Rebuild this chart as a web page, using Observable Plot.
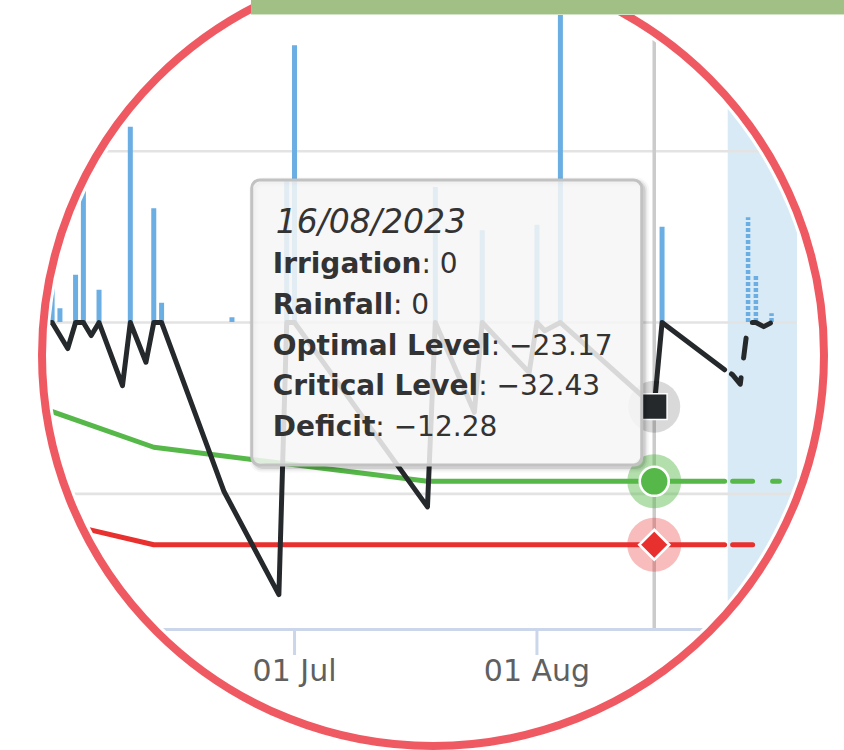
<!DOCTYPE html>
<html><head><meta charset="utf-8">
<script src="https://cdn.jsdelivr.net/npm/d3@7"></script>
<script src="https://cdn.jsdelivr.net/npm/@observablehq/plot@0.6"></script>
<style>
html,body{margin:0;padding:0;background:#fff;}
#stage{position:relative;width:844px;height:750px;overflow:hidden;background:#fff;}
#clip{position:absolute;left:0;top:0;width:844px;height:750px;clip-path:circle(384px at 433px 355px);}
#ring{position:absolute;left:38px;top:-40px;width:790px;height:790px;box-sizing:border-box;border:8px solid #ef5a62;border-radius:50%;}
#topbar{position:absolute;left:251px;top:0;width:593px;height:14px;background:#a1c085;border-bottom:1px solid #d3e3c6;}
</style></head>
<body>
<div id="stage"><div id="clip"></div><div id="ring"></div><div id="topbar"></div></div>
<script>
// ---------- data ----------
const deficitDates = ["2023-05-30","2023-05-31","2023-06-02","2023-06-03","2023-06-04","2023-06-05","2023-06-06","2023-06-09","2023-06-10","2023-06-12","2023-06-13","2023-06-14","2023-06-22","2023-06-29","2023-06-30","2023-07-01","2023-07-18","2023-07-19","2023-07-24","2023-07-25","2023-07-31","2023-08-01","2023-08-02","2023-08-04","2023-08-16","2023-08-17","2023-08-25"];
const deficitValues = [0,0,-3.8,0,0,-1.9,0,-9.2,0,-5.8,0,0,-24.7,-39.7,0,0,-26.9,0,-13.1,0,-7.3,0,-1.2,0,-12.28,0,-6.9];

const forecastDates = ["2023-08-25","2023-08-26","2023-08-27","2023-08-28","2023-08-29","2023-08-30","2023-08-31","2023-09-01"];
const deficitForecast = [-6.9,-7.6,-9.0,0,0,-0.6,0,0];

const optimalDates = ["2023-05-30","2023-06-13","2023-07-18","2023-08-16","2023-08-25"];
const optimalValues = [-12.6,-18.2,-23.17,-23.17,-23.17];
const criticalDates = ["2023-05-30","2023-06-13","2023-08-16","2023-08-25"];
const criticalValues = [-28.7,-32.43,-32.43,-32.43];

const levelForecastDates = ["2023-08-25","2023-09-01"];
const optimalForecast = [-23.17,-23.17];
const criticalForecast = [-32.43,-32.43];

const irrigationDates = ["2023-06-04","2023-06-10","2023-07-01","2023-07-19","2023-07-25","2023-08-01","2023-08-17"];
const irrigationValues = [19.6,28.5,40.4,19.7,13.4,14.2,13.9];
const rainfallDates = ["2023-05-31","2023-06-01","2023-06-03","2023-06-06","2023-06-13","2023-06-14","2023-06-23","2023-06-30","2023-08-04"];
const rainfallValues = [5.4,2.0,6.9,4.7,16.6,2.8,0.7,20.7,55];
const rainForecastDates = ["2023-08-28","2023-08-29","2023-08-31"];
const rainForecastValues = [15.3,6.9,1.3];

const axisTickDates = ["2023-06-01","2023-07-01","2023-08-01","2023-09-01"];
const gridValues = [-25, 0, 25];
const hoverDay = "2023-08-16";
const forecastBandStart = "2023-08-25T11:00Z";

// ---------- layout ----------
const xDomain = [new Date("2023-05-24T09:36Z"), new Date("2023-09-03T07:41Z")];
const yDomain = [-44.8, 47.0];

const parse = d3.utcParse("%Y-%m-%d");
const rows = (dates, vals) => dates.map((d, i) => ({date: parse(d), value: vals[i]}));

const deficit = rows(deficitDates, deficitValues);
const deficitF = rows(forecastDates, deficitForecast);
const optimal = rows(optimalDates, optimalValues);
const critical = rows(criticalDates, criticalValues);
const optimalF = rows(levelForecastDates, optimalForecast);
const criticalF = rows(levelForecastDates, criticalForecast);
const irrigation = rows(irrigationDates, irrigationValues);
const rainfall = rows(rainfallDates, rainfallValues);
const rainF = rows(rainForecastDates, rainForecastValues);
const hd = parse(hoverDay);

const pick = (dates, vals) => { const i = dates.indexOf(hoverDay); return i < 0 ? 0 : vals[i]; };
const hIrr = pick(irrigationDates, irrigationValues);
const hRain = pick(rainfallDates, rainfallValues);
const hOpt = pick(optimalDates, optimalValues);
const hCrit = pick(criticalDates, criticalValues);
const hDef = pick(deficitDates, deficitValues);

const BLACK = "#25292c", GREEN = "#56b848", RED = "#e8302f", BLUE = "#6aaee3";
const dash = {strokeDasharray: "20,20", strokeDashoffset: 32};

const chart = Plot.plot({
  width: 844, height: 750,
  marginLeft: 0, marginRight: 47, marginTop: 0, marginBottom: 121,
  style: {fontFamily: "DejaVu Sans", background: "#fff", overflow: "visible"},
  x: {type: "utc", domain: xDomain, axis: null},
  y: {domain: yDomain, axis: null},
  marks: [
    Plot.rect([{x1: new Date(forecastBandStart), x2: xDomain[1]}], {x1: "x1", x2: "x2", fill: "#d8eaf5"}),
    Plot.gridY(gridValues, {stroke: "#e3e3e3", strokeOpacity: 1, strokeWidth: 2.6}),
    Plot.ruleX([hd], {stroke: "#cbcbcb", strokeWidth: 3.5}),
    Plot.ruleY([yDomain[0]], {stroke: "#ccd6eb", strokeWidth: 3}),
    Plot.axisX(axisTickDates.map(parse), {
      tickFormat: d3.utcFormat("%d %b"), tickSize: 26, tickPadding: 4,
      stroke: "#ccd6eb", strokeWidth: 3, fill: "#606060", fontSize: 30, label: null
    }),
    Plot.ruleX(irrigation, {x: "date", y1: 0, y2: "value", stroke: BLUE, strokeWidth: 5}),
    Plot.ruleX(rainfall, {x: "date", y1: 0, y2: "value", stroke: BLUE, strokeWidth: 5}),
    Plot.ruleX(rainF, {x: "date", y1: 0, y2: "value", stroke: BLUE, strokeWidth: 4.5, strokeDasharray: "4,2"}),
    Plot.line(critical, {x: "date", y: "value", stroke: RED, strokeWidth: 5}),
    Plot.line(criticalF, {x: "date", y: "value", stroke: RED, strokeWidth: 5, ...dash}),
    Plot.line(optimal, {x: "date", y: "value", stroke: GREEN, strokeWidth: 5}),
    Plot.line(optimalF, {x: "date", y: "value", stroke: GREEN, strokeWidth: 5, ...dash}),
    Plot.line(deficit, {x: "date", y: "value", stroke: BLACK, strokeWidth: 5}),
    Plot.line(deficitF, {x: "date", y: "value", stroke: BLACK, strokeWidth: 5, ...dash}),
    // hover halos and markers
    Plot.dot([{date: hd, value: hDef}], {x: "date", y: "value", r: 26, fill: "#000", fillOpacity: 0.15}),
    Plot.dot([{date: hd, value: hOpt}], {x: "date", y: "value", r: 27, fill: GREEN, fillOpacity: 0.45}),
    Plot.dot([{date: hd, value: hCrit}], {x: "date", y: "value", r: 27, fill: RED, fillOpacity: 0.32}),
    Plot.dot([{date: hd, value: hDef}], {x: "date", y: "value", symbol: "square", r: 14.5, fill: BLACK, stroke: "#fff", strokeWidth: 1.5}),
    Plot.dot([{date: hd, value: hOpt}], {x: "date", y: "value", r: 14.5, fill: GREEN, stroke: "#fff", strokeWidth: 2.6}),
    Plot.dot([{date: hd, value: hCrit}], {x: "date", y: "value", symbol: "diamond2", r: 13.5, fill: RED, stroke: "#fff", strokeWidth: 2.6})
  ]
});

// ---------- tooltip ----------
const svg = d3.select(chart);
const hx = chart.scale("x").apply(hd);
const tipW = 390, tipH = 285, tipTop = 180;
const tipLeft = hx - 12 - tipW;
const tip = svg.append("g").attr("font-family", "DejaVu Sans").attr("fill", "#333").attr("text-anchor", "start");
[[10, 0.03], [6, 0.06], [2.6, 0.1]].forEach(([w, o]) => {
  tip.append("rect").attr("x", tipLeft + 2.6).attr("y", tipTop + 2.6)
    .attr("width", tipW).attr("height", tipH).attr("rx", 8)
    .attr("fill", "none").attr("stroke", "#000").attr("stroke-opacity", o).attr("stroke-width", w);
});
tip.append("rect").attr("x", tipLeft).attr("y", tipTop).attr("width", tipW).attr("height", tipH).attr("rx", 8)
  .attr("fill", "rgba(246,246,246,0.86)").attr("stroke", "#c2c2c2").attr("stroke-width", 3);

const f2 = d3.format(".2f");
const fmt = v => Number.isInteger(v) ? String(v) : f2(v);
const tx = tipLeft + 21;
tip.append("text").attr("x", tx + 3).attr("y", tipTop + 53).attr("font-size", 33).attr("font-style", "italic")
  .text(d3.utcFormat("%d/%m/%Y")(hd));
const bodyLines = [
  ["Irrigation", fmt(hIrr)],
  ["Rainfall", fmt(hRain)],
  ["Optimal Level", f2(hOpt)],
  ["Critical Level", f2(hCrit)],
  ["Deficit", f2(hDef)]
];
const baselines = [93, 134, 174.5, 215, 256];
bodyLines.forEach(([label, val], i) => {
  const t = tip.append("text").attr("x", tx).attr("y", tipTop + baselines[i]).attr("font-size", 28);
  t.append("tspan").attr("font-weight", "bold").text(label);
  t.append("tspan").text(": " + val);
});

document.getElementById("clip").appendChild(chart);
</script>
</body></html>
